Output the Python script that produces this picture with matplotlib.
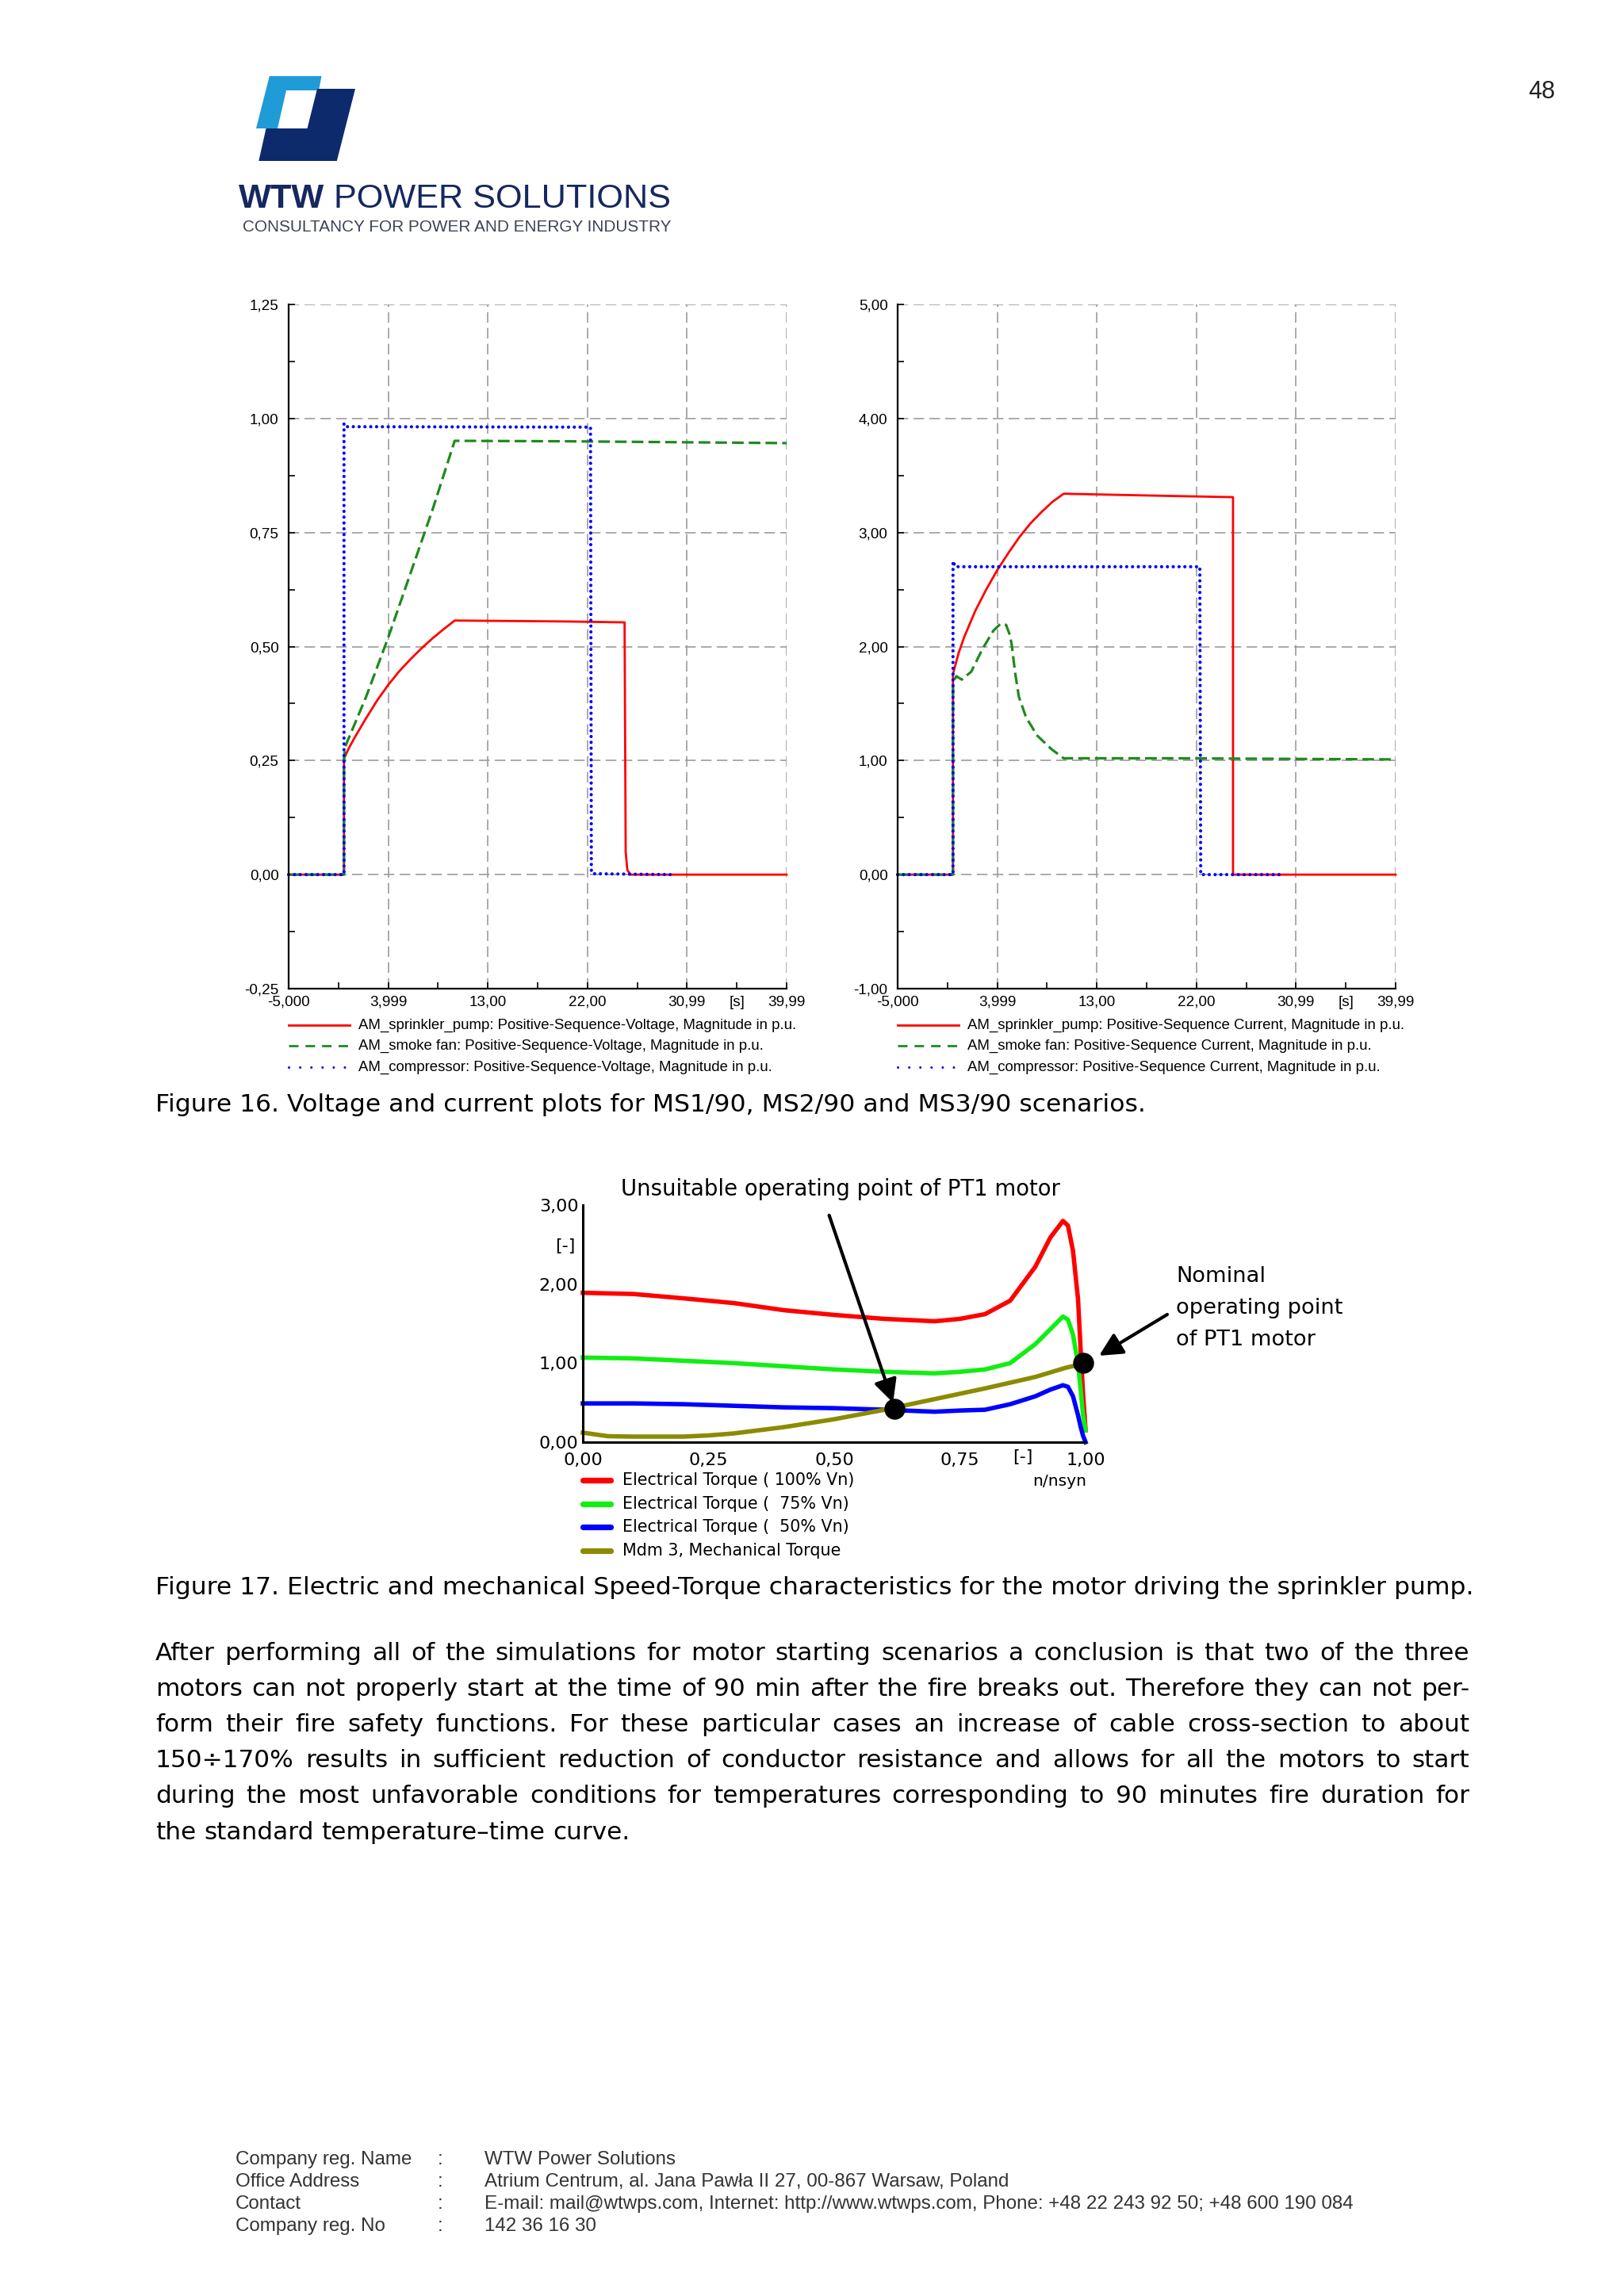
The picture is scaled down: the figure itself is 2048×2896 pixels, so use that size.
import matplotlib
matplotlib.use('Agg')
import matplotlib.pyplot as plt
from matplotlib.patches import Polygon

W, H, DPI = 2048, 2896, 200

# ---- Figure 16 data (time in s) ----
t_range = (-5.0, 39.99)
x_ticks = [-5.0, 3.999, 13.0, 22.0, 30.99, 39.99]
x_tick_labels = ['-5,000', '3,999', '13,00', '22,00', '30,99', '39,99']
x_minor = [-0.5, 8.5, 17.5, 26.5, 35.49]
x_minor_labels = ['', '', '', '', '[s]']

# voltage plot
v_yticks = [-0.25, 0.0, 0.25, 0.5, 0.75, 1.0, 1.25]
v_ylabels = ['-0,25', '0,00', '0,25', '0,50', '0,75', '1,00', '1,25']
pump_v_t = [-5, 0, 0, 0.5, 1, 2, 3, 4, 5, 6, 7, 8, 9, 10, 15, 20, 25.35, 25.45, 25.6, 25.9, 39.99]
pump_v = [0, 0, 0.255, 0.28, 0.302, 0.343, 0.382, 0.416, 0.446, 0.472, 0.496, 0.518, 0.538, 0.557,
          0.556, 0.555, 0.553, 0.05, 0.01, 0.0, 0.0]
fan_v_t = [-5, 0, 0, 0.1, 2, 4, 6, 8, 10, 20, 30, 39.99]
fan_v = [0, 0, 0.25, 0.28, 0.39, 0.52, 0.66, 0.80, 0.951, 0.95, 0.948, 0.946]
comp_v_t = [-5, 0, 0, 0.2, 22.27, 22.35, 22.5, 29.7]
comp_v = [0, 0, 0.989, 0.982, 0.981, 0.005, 0.002, 0.0]

# current plot
i_yticks = [-1.0, 0.0, 1.0, 2.0, 3.0, 4.0, 5.0]
i_ylabels = ['-1,00', '0,00', '1,00', '2,00', '3,00', '4,00', '5,00']
pump_i_t = [-5, 0, 0, 0.5, 1, 2, 3, 4, 5, 6, 7, 8, 9, 10, 15, 20, 25.3, 25.3, 39.99]
pump_i = [0, 0, 1.76, 1.94, 2.08, 2.31, 2.50, 2.67, 2.82, 2.96, 3.08, 3.18, 3.27, 3.34,
          3.33, 3.32, 3.31, 0.0, 0.0]
fan_i_t = [-5, 0, 0, 0.3, 0.8, 1.65, 2.67, 3.66, 4.3, 4.8, 5.14, 5.3, 5.6, 5.95,
           6.6, 7.6, 8.9, 10, 20, 39.99]
fan_i = [0, 0, 1.68, 1.74, 1.71, 1.78, 1.98, 2.14, 2.20, 2.19, 2.10, 2.02, 1.78, 1.56,
         1.38, 1.22, 1.10, 1.02, 1.02, 1.01]
comp_i_t = [-5, 0, 0, 0.2, 22.3, 22.38, 29.8]
comp_i = [0, 0, 2.75, 2.70, 2.70, 0.0, 0.0]

v_legend = ['AM_sprinkler_pump: Positive-Sequence-Voltage, Magnitude in p.u.',
            'AM_smoke fan: Positive-Sequence-Voltage, Magnitude in p.u.',
            'AM_compressor: Positive-Sequence-Voltage, Magnitude in p.u.']
i_legend = ['AM_sprinkler_pump: Positive-Sequence Current, Magnitude in p.u.',
            'AM_smoke fan: Positive-Sequence Current, Magnitude in p.u.',
            'AM_compressor: Positive-Sequence Current, Magnitude in p.u.']

# ---- Figure 17 data (speed n/nsyn) ----
speed = [0, 0.1, 0.2, 0.3, 0.4, 0.5, 0.6, 0.7, 0.75, 0.8, 0.85, 0.9, 0.93, 0.955,
         0.965, 0.975, 0.985, 0.99, 0.995, 1.0]
te_100 = [1.89, 1.875, 1.82, 1.76, 1.67, 1.61, 1.56, 1.53, 1.56, 1.62, 1.79, 2.22, 2.59,
          2.80, 2.74, 2.42, 1.81, 1.19, 0.61, 0.15]
te_75 = [1.07, 1.06, 1.03, 1.0, 0.96, 0.92, 0.89, 0.87, 0.89, 0.92, 1.0, 1.24, 1.43,
         1.59, 1.55, 1.36, 0.99, 0.68, 0.34, 0.15]
te_50 = [0.49, 0.49, 0.48, 0.46, 0.44, 0.43, 0.41, 0.385, 0.40, 0.41, 0.48, 0.58, 0.665,
         0.72, 0.70, 0.58, 0.34, 0.20, 0.08, 0.0]
mech_speed = [0, 0.05, 0.1, 0.2, 0.25, 0.3, 0.4, 0.5, 0.6, 0.7, 0.8, 0.9, 0.96, 0.99]
tm = [0.12, 0.075, 0.07, 0.07, 0.085, 0.11, 0.19, 0.29, 0.41, 0.545, 0.68, 0.825, 0.94, 0.985]
bad_point = (0.62, 0.42)
nominal_point = (0.995, 1.0)
t17_yticks = [0, 1, 2, 3]
t17_ylabels = ['0,00', '1,00', '2,00', '3,00']
t17_xticks = [0, 0.25, 0.5, 0.75, 1.0]
t17_xlabels = ['0,00', '0,25', '0,50', '0,75', '1,00']
t17_legend = ['Electrical Torque ( 100% Vn)', 'Electrical Torque (  75% Vn)',
              'Electrical Torque (  50% Vn)', 'Mdm 3, Mechanical Torque']

body = ["After performing all of the simulations for motor starting scenarios a conclusion is that two of the three",
        "motors can not properly start at the time of 90 min after the fire breaks out. Therefore they can not per-",
        "form their fire safety functions. For these particular cases an increase of cable cross-section to about",
        "150\u00f7170% results in sufficient reduction of conductor resistance and allows for all the motors to start",
        "during the most unfavorable conditions for temperatures corresponding to 90 minutes fire duration for",
        "the standard temperature\u2013time curve."]

footer = [('Company reg. Name', 'WTW Power Solutions'),
          ('Office Address', 'Atrium Centrum, al. Jana Pawła II 27, 00-867 Warsaw, Poland'),
          ('Contact', 'E-mail: mail@wtwps.com, Internet: http://www.wtwps.com, Phone: +48 22 243 92 50; +48 600 190 084'),
          ('Company reg. No', '142 36 16 30')]

plt.rcParams['font.family'] = ['Liberation Sans', 'DejaVu Sans']
BODY = ['DejaVu Sans']

fig = plt.figure(figsize=(W / DPI, H / DPI), dpi=DPI)
pg = fig.add_axes([0, 0, 1, 1], zorder=0)
pg.set_xlim(0, W)
pg.set_ylim(H, 0)
pg.axis('off')
renderer = fig.canvas.get_renderer()


def width_of(t):
    return t.get_window_extent(renderer).width


def fit(txt, target, family, size0=10, **kw):
    t = pg.text(0, 0, txt, fontsize=size0, family=family, **kw)
    w = width_of(t)
    t.remove()
    return size0 * target / w


def rect(x0, y0, x1, y1):
    return [x0 / W, 1 - y1 / H, (x1 - x0) / W, (y1 - y0) / H]


# ---- header / logo ----
light = [(339.8, 96), (405.5, 96), (402.0, 114), (361.0, 114), (350.0, 162), (323.0, 162)]
dark = [(400.0, 112), (448, 112), (424.8, 203), (326.3, 203), (335.5, 162), (387.5, 162)]
pg.add_patch(Polygon(light, closed=True, fc='#1f9bd8', ec='none'))
pg.add_patch(Polygon(dark, closed=True, fc='#0d2a6c', ec='none'))

navy = '#15285f'
s_b = pg.text(0, 0, 'WTW', fontsize=10, fontweight='bold')
s_r = pg.text(0, 0, ' POWER SOLUTIONS', fontsize=10)
scale = 545 / (width_of(s_b) + width_of(s_r))
s_b.remove(); s_r.remove()
t1 = pg.text(301, 262, 'WTW', fontsize=10 * scale, fontweight='bold', color=navy, va='baseline')
pg.text(301 + width_of(t1), 262, ' POWER SOLUTIONS', fontsize=10 * scale, color=navy, va='baseline')
sub = 'CONSULTANCY FOR POWER AND ENERGY INDUSTRY'
pg.text(306, 292, sub, fontsize=fit(sub, 539, ['Liberation Sans']), color='#3d4257', va='baseline')
pg.text(1961, 124, '48', fontsize=11, ha='right', va='baseline', color='#222222')

# ---- Figure 16 ----
RED, GREEN, BLUE = '#ff0000', '#1e8a1e', '#0000ff'
DOT = (0, (0.01, 1.75))
DASH = (0, (4.6, 2.0))


def sim_axes(r, ylim, yticks, ylabels, series):
    ax = fig.add_axes(r, zorder=2)
    ax.patch.set_alpha(0)
    ax.set_xlim(*t_range)
    ax.set_ylim(*ylim)
    ax.set_xticks(x_ticks, labels=x_tick_labels)
    ax.set_xticks(x_minor, labels=x_minor_labels, minor=True)
    ax.set_yticks(yticks, labels=ylabels)
    ax.set_yticks([(a + b) / 2 for a, b in zip(yticks[:-1], yticks[1:])], minor=True)
    ax.set_axisbelow(True)
    ax.grid(True, which='major', color='#9c9c9c', ls=(0, (8, 4)), lw=0.6)
    for s in ('top', 'right'):
        ax.spines[s].set_visible(False)
    for s in ('left', 'bottom'):
        ax.spines[s].set_linewidth(0.8)
    ax.tick_params(which='both', direction='in', length=3, width=0.6, labelsize=6.8)
    ax.tick_params(axis='y', pad=4.5)
    ax.tick_params(axis='x', pad=3)
    (pt, pv), (ft, fv), (ct, cv) = series
    ax.plot(pt, pv, color=RED, lw=1.0, clip_on=False)
    ax.plot(ft, fv, color=GREEN, lw=1.15, ls=DASH, clip_on=False)
    ax.plot(ct, cv, color=BLUE, lw=1.5, ls=DOT, dash_capstyle='round', clip_on=False)
    return ax


sim_axes(rect(364, 384, 992, 1247), (-0.25, 1.25), v_yticks, v_ylabels,
         [(pump_v_t, pump_v), (fan_v_t, fan_v), (comp_v_t, comp_v)])
sim_axes(rect(1132, 384, 1760, 1247), (-1.0, 5.0), i_yticks, i_ylabels,
         [(pump_i_t, pump_i), (fan_i_t, fan_i), (comp_i_t, comp_i)])

leg_rows = [1293, 1319, 1346]
leg_styles = [dict(color=RED, lw=1.0),
              dict(color=GREEN, lw=1.0, ls=(0, (4.3, 3.2))),
              dict(color=BLUE, lw=1.1, ls=(0, (0.01, 4.6)), dash_capstyle='round')]
for x0, labels in ((364, v_legend), (1132, i_legend)):
    for y, lab, st in zip(leg_rows, labels, leg_styles):
        pg.plot([x0, x0 + 77], [y, y], **st)
        pg.text(x0 + 88, y, lab, fontsize=6.7, va='center')

cap17 = "Figure 17. Electric and mechanical Speed-Torque characteristics for the motor driving the sprinkler pump."
cap_size = fit(cap17, 1657, BODY)
pg.text(196, 1402, "Figure 16. Voltage and current plots for MS1/90, MS2/90 and MS3/90 scenarios.",
        fontsize=cap_size, family=BODY, va='baseline')

# ---- Figure 17 ----
ax = fig.add_axes(rect(735, 1520, 1369, 1819), zorder=2)
ax.patch.set_alpha(0)
ax.set_xlim(0, 1.0)
ax.set_ylim(0, 3.0)
ax.plot(speed, te_100, color='#ff0000', lw=2.0, clip_on=False)
ax.plot(speed, te_75, color='#12ee12', lw=2.0, clip_on=False)
ax.plot(speed, te_50, color='#0000ff', lw=2.0, clip_on=False)
ax.plot(mech_speed, tm, color='#8b8b00', lw=2.0, clip_on=False)
ax.plot(*bad_point, 'o', color='k', ms=8.5, clip_on=False, zorder=5)
ax.plot(*nominal_point, 'o', color='k', ms=8.5, clip_on=False, zorder=5)
ax.set_xticks(t17_xticks, labels=t17_xlabels)
ax.set_xticks([0.875], labels=['[-]'], minor=True)
ax.set_yticks(t17_yticks, labels=t17_ylabels)
ax.set_yticks([2.5], labels=['[-]'], minor=True)
ax.tick_params(which='both', length=0, labelsize=8, labelfontfamily='DejaVu Sans')
ax.tick_params(axis='y', pad=2)
ax.tick_params(axis='x', pad=4.5)
for s in ('top', 'right'):
    ax.spines[s].set_visible(False)
for s in ('left', 'bottom'):
    ax.spines[s].set_linewidth(1.1)
ax.annotate('', xy=(0.617, 0.50), xytext=(0.49, 2.87), annotation_clip=False,
            arrowprops=dict(arrowstyle='-|>', color='k', lw=1.5, mutation_scale=22,
                            shrinkA=0, shrinkB=0))

unsuit = 'Unsuitable operating point of PT1 motor'
pg.text(783, 1500, unsuit, fontsize=fit(unsuit, 554, BODY), family=BODY, va='center')
for y, line in zip([1610, 1650, 1690], ['Nominal', 'operating point', 'of PT1 motor']):
    pg.text(1483, y, line, fontsize=9.8, family=BODY, va='center')
pg.annotate('', xy=(1386, 1710), xytext=(1472, 1658),
            arrowprops=dict(arrowstyle='-|>', color='k', lw=1.5, mutation_scale=22,
                            shrinkA=0, shrinkB=0))
pg.text(1336, 1869, 'n/nsyn', fontsize=7.3, family=BODY, ha='center', va='center')

leg17_size = fit(t17_legend[0], 292, BODY)
for y, lab, c in zip([1867, 1897, 1926, 1956], t17_legend,
                     ['#ff0000', '#12ee12', '#0000ff', '#8b8b00']):
    pg.plot([735, 770], [y, y], color=c, lw=2.6, solid_capstyle='round')
    pg.text(785, y, lab, fontsize=leg17_size, family=BODY, va='center')

pg.text(196, 2011, cap17, fontsize=cap_size, family=BODY, va='baseline')

# ---- body text, justified ----
body_size = fit(body[-1], 598, BODY)
for i, line in enumerate(body):
    y = 2094 + 45.1 * i
    words = line.split(' ')
    texts = [pg.text(0, y, w, fontsize=body_size, family=BODY, va='baseline') for w in words]
    widths = [width_of(t) for t in texts]
    if i == len(body) - 1:
        sp = pg.text(0, 0, 'a a', fontsize=body_size, family=BODY)
        a = pg.text(0, 0, 'aa', fontsize=body_size, family=BODY)
        gap = width_of(sp) - width_of(a)
        sp.remove(); a.remove()
    else:
        gap = (1853 - 196 - sum(widths)) / (len(words) - 1)
    x = 196
    for t, w in zip(texts, widths):
        t.set_x(x)
        x += w + gap

# ---- footer ----
foot_size = fit(footer[2][1], 1094, ['Liberation Sans'])
for i, (k, v) in enumerate(footer):
    y = 2730 + 28 * i
    pg.text(297, y, k, fontsize=foot_size, va='baseline', color='#333333')
    pg.text(552, y, ':', fontsize=foot_size, va='baseline', color='#333333')
    pg.text(611, y, v, fontsize=foot_size, va='baseline', color='#333333')

fig.savefig('out.png', dpi=DPI)
